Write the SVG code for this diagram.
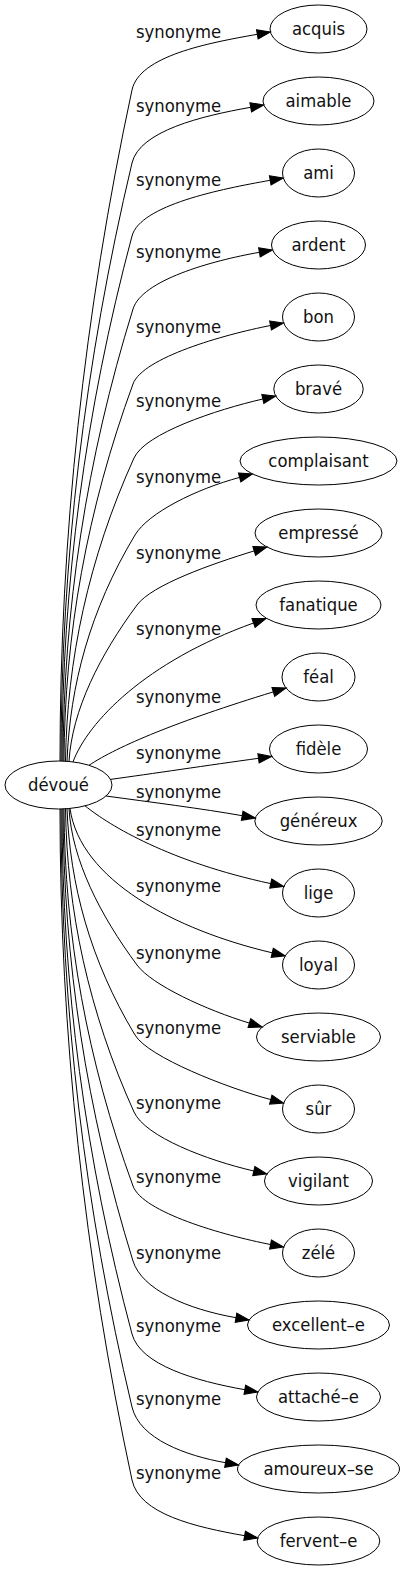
<svg xmlns="http://www.w3.org/2000/svg" width="405" height="1571" viewBox="0 0 405 1571">
<defs>
<style>
.node ellipse{fill:none;stroke:#000;stroke-width:1}
text{font-family:"DejaVu Sans Condensed","DejaVu Sans",sans-serif;font-stretch:condensed;font-size:18.3px;text-anchor:middle;fill:#111}
#edges path{fill:none;stroke:#000;stroke-width:1;marker-end:url(#ah)}
</style>
<marker id="ah" markerUnits="userSpaceOnUse" viewBox="-1 -6 16 12" markerWidth="16" markerHeight="12" refX="0" refY="0" orient="auto" overflow="visible">
<path d="M0,-4.67 L13.3,0 L0,4.67 Z" fill="#000" stroke="#000" stroke-width="1"/>
</marker>
</defs>
<rect width="405" height="1571" fill="#fff"/>
<g id="edges">
<g id="e-acquis"><path d="M60,761 C60,537.3 84,313.7 132,90 C139.35,55.8 208.1,43 257.3,34.3"/><text x="178.5" y="38">synonyme</text></g>
<g id="e-aimable"><path d="M61,761 C61,561.7 84.7,362.3 132,163 C139.6,130.9 201.5,116 250.7,107.3"/><text x="178.5" y="112">synonyme</text></g>
<g id="e-ami"><path d="M62,761 C62,586 85.3,411 132,236 C140.3,205.1 221,189 270.2,180.3"/><text x="178.5" y="186">synonyme</text></g>
<g id="e-ardent"><path d="M63,761.1 C63.5,610.4 86.3,459.7 133,309 C141.9,280.4 210.2,261 259.4,252.3"/><text x="178.5" y="258">synonyme</text></g>
<g id="e-bon"><path d="M64,761.1 C64.5,635.5 87,509.7 133,384 C142.6,357.7 223.4,334.7 270.5,325.5"/><text x="178.5" y="333">synonyme</text></g>
<g id="e-brave"><path d="M65.5,761.2 C67,660.1 88.3,559.1 134,458 C145.1,433.4 216,409.8 262.8,399"/><text x="178.5" y="407">synonyme</text></g>
<g id="e-complaisant"><path d="M67,761.3 C70,685.9 89.7,610.4 135,535 C148.4,512.7 196.2,489.1 239.6,477.4"/><text x="178.5" y="483">synonyme</text></g>
<g id="e-empresse"><path d="M69,761.5 C72,710 100,655 137,605 C151.9,584.9 211.2,564.1 254.2,550.9"/><text x="178.5" y="559">synonyme</text></g>
<g id="e-fanatique"><path d="M73,761.9 C88,722 145,662 253.5,623"/><text x="178.5" y="635">synonyme</text></g>
<g id="e-feal"><path d="M89,765.3 C118,746 177.7,721.1 273.3,691.9"/><text x="178.5" y="703">synonyme</text></g>
<g id="e-fidele"><path d="M110.5,779.4 C150,774 210,765 258.5,758.3"/><text x="178.5" y="759">synonyme</text></g>
<g id="e-genereux"><path d="M106,796 C150,802 202.8,808.7 242.2,815.7"/><text x="178.5" y="798">synonyme</text></g>
<g id="e-lige"><path d="M85,805.8 C110,826 170,862 270.7,883.6"/><text x="178.5" y="836">synonyme</text></g>
<g id="e-loyal"><path d="M70,808.4 C80,880 175,930 272.2,952.8"/><text x="178.5" y="892">synonyme</text></g>
<g id="e-serviable"><path d="M69,808.5 C72,860 100,915 137,965 C151.9,985.1 206.4,1010 249.4,1023.1"/><text x="178.5" y="959">synonyme</text></g>
<g id="e-sur"><path d="M67,808.7 C70,884.1 89.7,959.6 135,1035 C148.4,1057.3 227.3,1087.9 270.75,1099.6"/><text x="178.5" y="1034">synonyme</text></g>
<g id="e-vigilant"><path d="M65.5,808.8 C67,909.9 88.3,1010.9 134,1112 C145.1,1136.6 207,1160.2 253.8,1171"/><text x="178.5" y="1109">synonyme</text></g>
<g id="e-zele"><path d="M64,808.9 C64.5,934.5 87,1060.3 133,1186 C142.6,1212.3 223.4,1235.3 270.5,1244.5"/><text x="178.5" y="1183">synonyme</text></g>
<g id="e-excellent-e"><path d="M63,808.9 C63.5,959.6 86.3,1110.3 133,1261 C141.9,1289.6 186.8,1309 236,1317.7"/><text x="178.5" y="1259">synonyme</text></g>
<g id="e-attache-e"><path d="M62,809 C62,984 85.3,1159 132,1334 C140.3,1364.9 195.6,1381 244.8,1389.7"/><text x="178.5" y="1332">synonyme</text></g>
<g id="e-amoureux-se"><path d="M61,809 C61,1008.3 84.7,1207.7 132,1407 C139.6,1439.1 186.1,1455.7 225.5,1462.7"/><text x="178.5" y="1405">synonyme</text></g>
<g id="e-fervent-e"><path d="M60,809 C60,1032.7 84,1256.3 132,1480 C139.35,1514.2 195.4,1527 244.6,1535.7"/><text x="178.5" y="1479">synonyme</text></g>
</g>
<g id="n-devoue" class="node"><ellipse cx="58.5" cy="785" rx="53.5" ry="24"/><text x="58.5" y="791">dévoué</text></g>
<g id="n-acquis" class="node"><ellipse cx="318.5" cy="29" rx="48.5" ry="24"/><text x="318.5" y="35">acquis</text></g>
<g id="n-aimable" class="node"><ellipse cx="318.5" cy="101" rx="55.5" ry="24"/><text x="318.5" y="107">aimable</text></g>
<g id="n-ami" class="node"><ellipse cx="318.5" cy="173" rx="36" ry="24"/><text x="318.5" y="179">ami</text></g>
<g id="n-ardent" class="node"><ellipse cx="318.5" cy="245" rx="47" ry="24"/><text x="318.5" y="251">ardent</text></g>
<g id="n-bon" class="node"><ellipse cx="318.5" cy="317" rx="36" ry="24"/><text x="318.5" y="323">bon</text></g>
<g id="n-brave" class="node"><ellipse cx="318.5" cy="389" rx="44.7" ry="24"/><text x="318.5" y="395">bravé</text></g>
<g id="n-complaisant" class="node"><ellipse cx="318.5" cy="461" rx="78.5" ry="24"/><text x="318.5" y="467">complaisant</text></g>
<g id="n-empresse" class="node"><ellipse cx="318.5" cy="533" rx="63.5" ry="24"/><text x="318.5" y="539">empressé</text></g>
<g id="n-fanatique" class="node"><ellipse cx="318.5" cy="605" rx="62.5" ry="24"/><text x="318.5" y="611">fanatique</text></g>
<g id="n-feal" class="node"><ellipse cx="318.5" cy="677" rx="36.5" ry="24"/><text x="318.5" y="683">féal</text></g>
<g id="n-fidele" class="node"><ellipse cx="318.5" cy="749" rx="49" ry="24"/><text x="318.5" y="755">fidèle</text></g>
<g id="n-genereux" class="node"><ellipse cx="318.5" cy="821" rx="63.7" ry="24"/><text x="318.5" y="827">généreux</text></g>
<g id="n-lige" class="node"><ellipse cx="318.5" cy="893" rx="36" ry="24"/><text x="318.5" y="899">lige</text></g>
<g id="n-loyal" class="node"><ellipse cx="318.5" cy="965" rx="36" ry="24"/><text x="318.5" y="971">loyal</text></g>
<g id="n-serviable" class="node"><ellipse cx="318.5" cy="1037" rx="62" ry="24"/><text x="318.5" y="1043">serviable</text></g>
<g id="n-sur" class="node"><ellipse cx="318.5" cy="1109" rx="36" ry="24"/><text x="318.5" y="1115">sûr</text></g>
<g id="n-vigilant" class="node"><ellipse cx="318.5" cy="1181" rx="54" ry="24"/><text x="318.5" y="1187">vigilant</text></g>
<g id="n-zele" class="node"><ellipse cx="318.5" cy="1253" rx="36" ry="24"/><text x="318.5" y="1259">zélé</text></g>
<g id="n-excellent-e" class="node"><ellipse cx="318.5" cy="1325" rx="71" ry="24"/><text x="318.5" y="1331">excellent–e</text></g>
<g id="n-attache-e" class="node"><ellipse cx="318.5" cy="1397" rx="62" ry="24"/><text x="318.5" y="1403">attaché–e</text></g>
<g id="n-amoureux-se" class="node"><ellipse cx="318.5" cy="1469" rx="81" ry="24"/><text x="318.5" y="1475">amoureux–se</text></g>
<g id="n-fervent-e" class="node"><ellipse cx="318.5" cy="1541" rx="61.3" ry="24"/><text x="318.5" y="1547">fervent–e</text></g>
</svg>
